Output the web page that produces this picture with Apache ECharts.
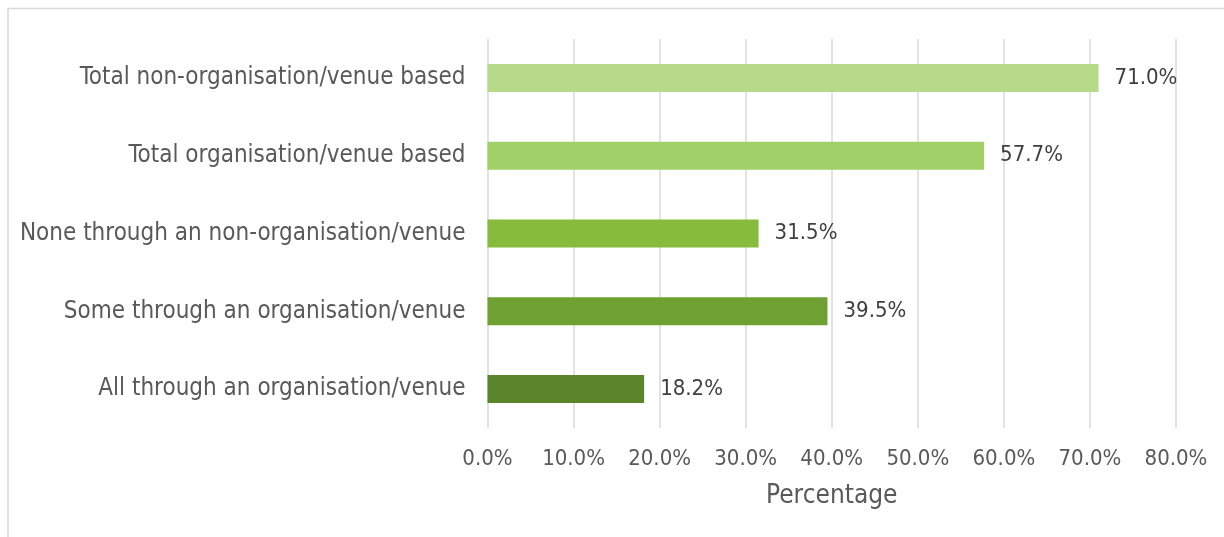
<!DOCTYPE html>
<html>
<head>
<meta charset="utf-8">
<script src="https://cdn.jsdelivr.net/npm/echarts@6/dist/echarts.min.js"></script>
<style>
  html, body { margin: 0; padding: 0; background: #ffffff; }
  #chart { width: 1224px; height: 537px; }
</style>
</head>
<body>
<div id="chart"></div>
<script>
// categories, top to bottom as shown
var categories = [
  'Total non-organisation/venue based',
  'Total organisation/venue based',
  'None through an non-organisation/venue',
  'Some through an organisation/venue',
  'All through an organisation/venue'
];
var values = [71.0, 57.7, 31.5, 39.5, 18.2];
var barColors = ['#b6da8a', '#a1cf68', '#86bb3b', '#6fa132', '#5a852b'];
var axisTicks = [0, 10, 20, 30, 40, 50, 60, 70, 80];

var font = '"DejaVu Sans Condensed", "DejaVu Sans", sans-serif';

var chart = echarts.init(document.getElementById('chart'));

var option = {
  backgroundColor: '#ffffff',
  animation: false,
  textStyle: { fontFamily: font },
  graphic: [
    {
      type: 'rect',
      shape: { x: 8, y: 8.5, width: 1300, height: 600 },
      style: { fill: 'none', stroke: '#d9d9d9', lineWidth: 1.5 },
      silent: true
    }
  ],
  grid: {
    left: 487.5,
    right: 48,
    top: 39,
    bottom: 109,
    containLabel: false
  },
  xAxis: {
    type: 'value',
    min: axisTicks[0],
    max: axisTicks[axisTicks.length - 1],
    interval: 10,
    name: 'Percentage',
    nameLocation: 'middle',
    nameGap: 55,
    nameTextStyle: { color: '#595959', fontSize: 26, fontFamily: font },
    axisLine: { show: false },
    axisTick: { show: false },
    axisLabel: {
      color: '#595959',
      fontSize: 22,
      margin: 20,
      fontFamily: font,
      formatter: function (v) { return v.toFixed(1) + '%'; }
    },
    splitLine: { show: true, lineStyle: { color: '#d9d9d9', width: 1.5 } }
  },
  yAxis: {
    type: 'category',
    inverse: true,
    data: categories,
    axisLine: { show: false },
    axisTick: { show: false },
    axisLabel: {
      color: '#595959',
      fontSize: 24,
      margin: 22,
      fontFamily: font
    }
  },
  series: [
    {
      type: 'bar',
      barWidth: 28,
      data: values.map(function (v, i) {
        return { value: v, itemStyle: { color: barColors[i] } };
      }),
      label: {
        show: true,
        position: 'right',
        distance: 16,
        color: '#404040',
        fontSize: 22,
        fontFamily: font,
        formatter: function (p) { return p.value.toFixed(1) + '%'; }
      }
    }
  ]
};

chart.setOption(option);
</script>
</body>
</html>
